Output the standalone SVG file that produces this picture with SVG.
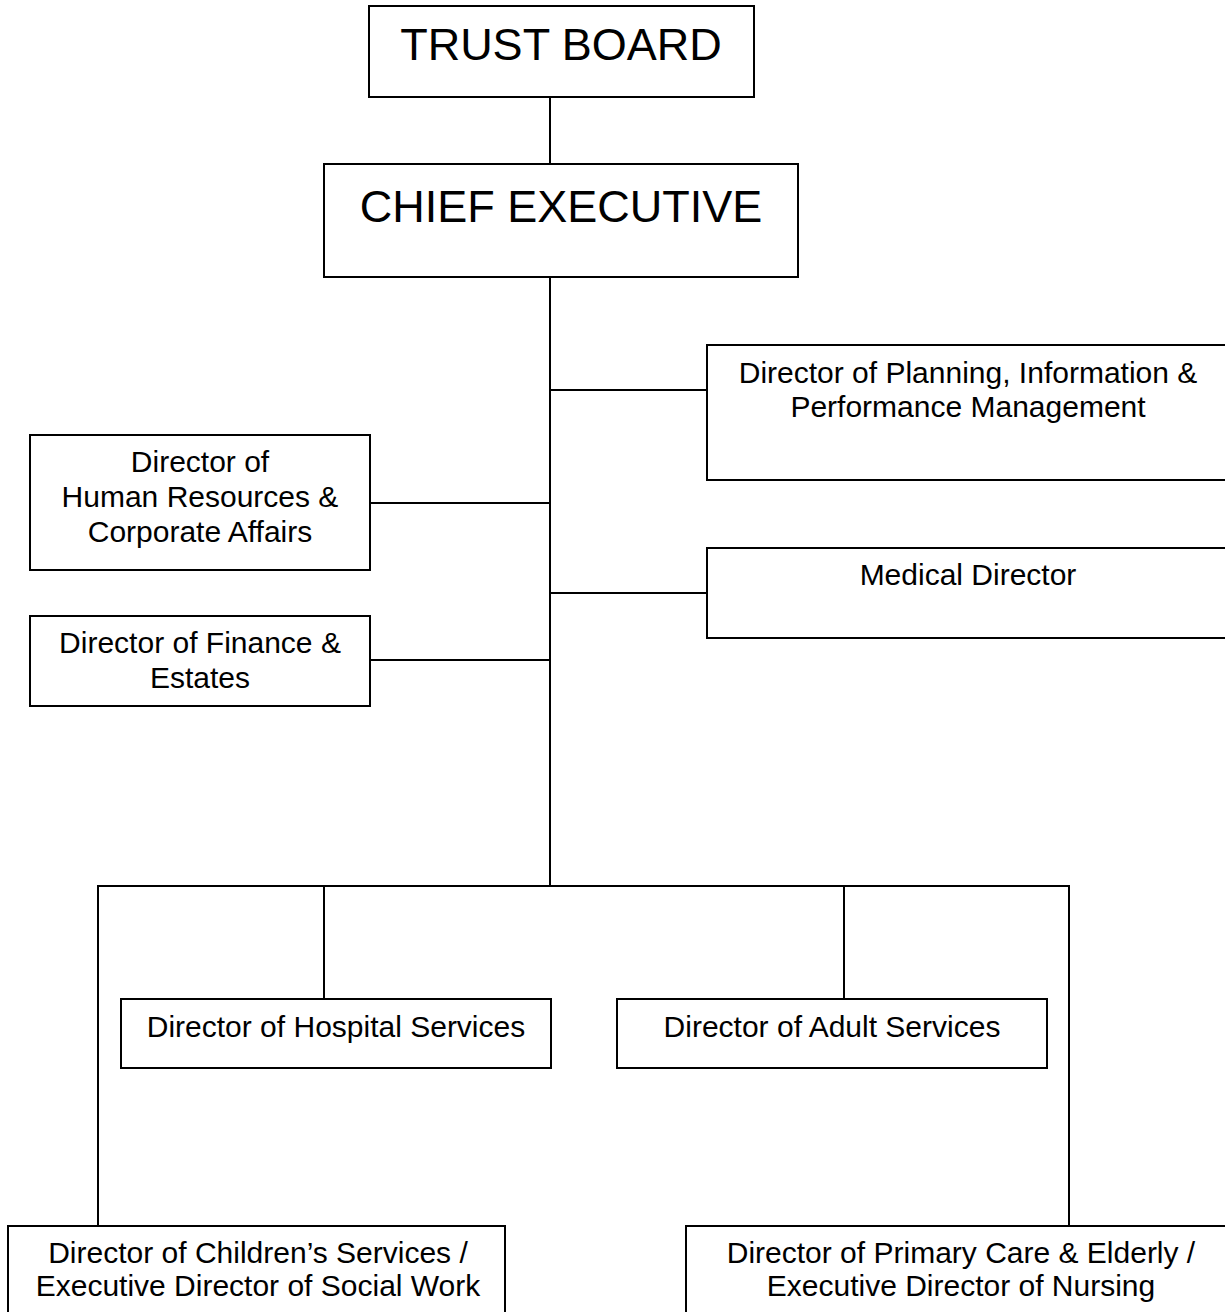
<svg xmlns="http://www.w3.org/2000/svg" width="1225" height="1312" viewBox="0 0 1225 1312">
<style>
.box{fill:#fff;stroke:#000;stroke-width:2}
.ln{stroke:#000;stroke-width:2;fill:none}
text{font-family:"Liberation Sans",Arial,sans-serif;fill:#000;text-anchor:middle}
.big{font-size:45px}
.t{font-size:30px}
</style>
<rect width="1225" height="1312" fill="#fff"/>
<g id="connectors">
<line class="ln" x1="550" y1="97" x2="550" y2="164"/>
<line class="ln" x1="550" y1="277" x2="550" y2="886"/>
<line class="ln" x1="550" y1="390" x2="707" y2="390"/>
<line class="ln" x1="550" y1="593" x2="707" y2="593"/>
<line class="ln" x1="370" y1="503" x2="550" y2="503"/>
<line class="ln" x1="370" y1="660" x2="550" y2="660"/>
<polyline class="ln" points="98,1226 98,886 1069,886 1069,1226"/>
<line class="ln" x1="324" y1="886" x2="324" y2="999"/>
<line class="ln" x1="844" y1="886" x2="844" y2="999"/>
</g>
<g id="trust-board">
<rect class="box" x="369" y="6" width="385" height="91"/>
<text class="big" x="561" y="60">TRUST BOARD</text>
</g>
<g id="chief-executive">
<rect class="box" x="324" y="164" width="474" height="113"/>
<text class="big" x="561" y="222">CHIEF EXECUTIVE</text>
</g>
<g id="planning">
<rect class="box" x="707" y="345" width="525" height="135"/>
<text class="t" x="968" y="383">Director of Planning, Information &amp;</text>
<text class="t" x="968" y="417">Performance Management</text>
</g>
<g id="medical">
<rect class="box" x="707" y="548" width="525" height="90"/>
<text class="t" x="968" y="585">Medical Director</text>
</g>
<g id="hr">
<rect class="box" x="30" y="435" width="340" height="135"/>
<text class="t" x="200" y="472">Director of</text>
<text class="t" x="200" y="507">Human Resources &amp;</text>
<text class="t" x="200" y="542">Corporate Affairs</text>
</g>
<g id="finance">
<rect class="box" x="30" y="616" width="340" height="90"/>
<text class="t" x="200" y="653">Director of Finance &amp;</text>
<text class="t" x="200" y="688">Estates</text>
</g>
<g id="hospital">
<rect class="box" x="121" y="999" width="430" height="69"/>
<text class="t" x="336" y="1037">Director of Hospital Services</text>
</g>
<g id="adult">
<rect class="box" x="617" y="999" width="430" height="69"/>
<text class="t" x="832" y="1037">Director of Adult Services</text>
</g>
<g id="children">
<rect class="box" x="8" y="1226" width="497" height="100"/>
<text class="t" x="258" y="1263">Director of Children’s Services /</text>
<text class="t" x="258" y="1296">Executive Director of Social Work</text>
</g>
<g id="primary">
<rect class="box" x="686" y="1226" width="550" height="100"/>
<text class="t" x="961" y="1263">Director of Primary Care &amp; Elderly /</text>
<text class="t" x="961" y="1296">Executive Director of Nursing</text>
</g>
</svg>
